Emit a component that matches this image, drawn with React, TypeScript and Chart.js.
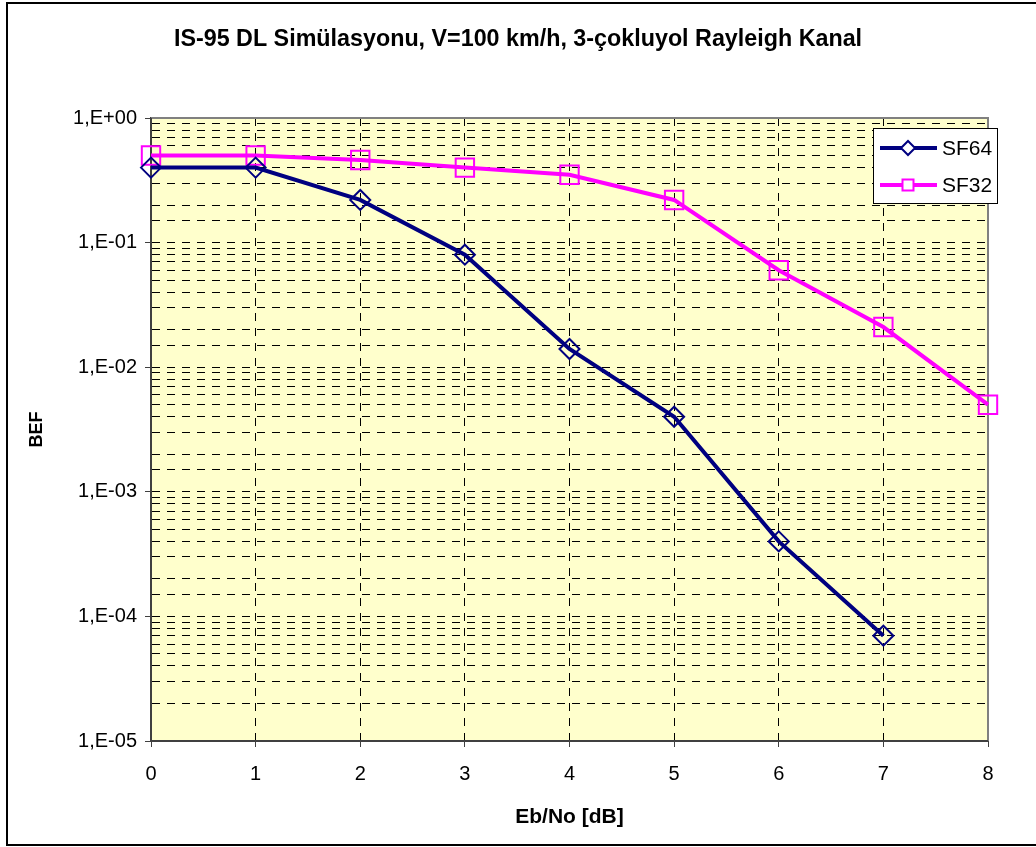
import { useEffect, useRef } from 'react';
import { Chart, registerables } from 'chart.js';

Chart.register(...registerables);

const ebNo = [0, 1, 2, 3, 4, 5, 6, 7, 8];
const sf64 = [0.4, 0.4, 0.22, 0.08, 0.014, 0.004, 0.0004, 0.00007];
const sf32 = [0.5, 0.5, 0.46, 0.4, 0.35, 0.22, 0.06, 0.021, 0.005];
const seriesNames = ['SF64', 'SF32'];
const seriesColors = ['#000080', '#FF00FF'];
const titleText = 'IS-95 DL Simülasyonu, V=100 km/h, 3-çokluyol Rayleigh Kanal';
const xTitle = 'Eb/No [dB]';
const yTitle = 'BEF';

const FONT = '"Liberation Sans", Arial, sans-serif';

function isDecade(v: number) {
  const l = Math.log10(v);
  return Math.abs(l - Math.round(l)) < 1e-9;
}
function fmtDecade(v: number) {
  const e = Math.round(Math.log10(v));
  const s = e < 0 ? '-' : '+';
  return `1,E${s}${String(Math.abs(e)).padStart(2, '0')}`;
}

const bgPlugin = {
  id: 'plotBg',
  beforeDraw(chart: any) {
    const { ctx, chartArea: a } = chart;
    ctx.save();
    ctx.fillStyle = '#fff';
    ctx.fillRect(0, 0, chart.width, chart.height);
    ctx.fillStyle = '#FFFFCC';
    ctx.fillRect(a.left, a.top, a.right - a.left, a.bottom - a.top);
    // title, centred on the whole chart
    ctx.fillStyle = '#000';
    ctx.font = `bold 23.3px ${FONT}`;
    ctx.textAlign = 'center';
    ctx.textBaseline = 'middle';
    ctx.fillText(titleText, chart.width / 2, 40);
    ctx.restore();
  },
  beforeDatasetsDraw(chart: any) {
    const { ctx, chartArea: a } = chart;
    ctx.save();
    ctx.strokeStyle = '#808080';
    ctx.lineWidth = 2;
    ctx.beginPath();
    ctx.moveTo(a.left, a.top);
    ctx.lineTo(a.right, a.top);
    ctx.lineTo(a.right, a.bottom);
    ctx.stroke();
    ctx.strokeStyle = '#404040';
    ctx.beginPath();
    ctx.moveTo(a.left, a.top);
    ctx.lineTo(a.left, a.bottom);
    ctx.lineTo(a.right, a.bottom);
    ctx.stroke();
    ctx.restore();
  },
  afterDraw(chart: any) {
    const { ctx } = chart;
    ctx.save();
    // outer border
    ctx.strokeStyle = '#000';
    ctx.lineWidth = 2;
    ctx.strokeRect(7, 3, chart.width + 10, 842);
    // legend
    const lx = 873, ly = 128, lw = 125, lh = 76;
    ctx.fillStyle = '#fff';
    ctx.fillRect(lx, ly, lw, lh);
    ctx.lineWidth = 1;
    ctx.strokeStyle = '#000';
    ctx.strokeRect(lx + 0.5, ly + 0.5, lw - 1, lh - 1);
    chart.data.datasets.forEach((ds: any, i: number) => {
      const y = ly + 20 + i * 37;
      ctx.strokeStyle = ds.borderColor;
      ctx.lineWidth = 4;
      ctx.beginPath();
      ctx.moveTo(lx + 7, y);
      ctx.lineTo(lx + 64, y);
      ctx.stroke();
      const cx = lx + 35;
      ctx.lineWidth = 2;
      ctx.fillStyle = '#fff';
      ctx.beginPath();
      if (ds.pointStyle === 'rectRot') {
        const r = 7;
        ctx.moveTo(cx - r, y);
        ctx.lineTo(cx, y - r);
        ctx.lineTo(cx + r, y);
        ctx.lineTo(cx, y + r);
        ctx.closePath();
      } else {
        const h = 5.5;
        ctx.rect(cx - h, y - h, 2 * h, 2 * h);
      }
      ctx.fill();
      ctx.stroke();
      ctx.fillStyle = '#000';
      ctx.font = `21px ${FONT}`;
      ctx.textBaseline = 'middle';
      ctx.textAlign = 'left';
      ctx.fillText(ds.label, lx + 69, y + 1);
    });
    ctx.restore();
  },
};

export default function App() {
  const ref = useRef<HTMLCanvasElement>(null);
  useEffect(() => {
    document.body.style.margin = '0';
    const canvas = ref.current!;
    const chart = new Chart(canvas, {
      type: 'line',
      data: {
        datasets: [
          {
            label: seriesNames[0],
            data: sf64.map((v, i) => ({ x: ebNo[i], y: v })),
            borderColor: seriesColors[0],
            backgroundColor: 'transparent',
            borderWidth: 4,
            pointStyle: 'rectRot',
            pointRadius: 10,
            pointBorderWidth: 2,
            pointBorderColor: seriesColors[0],
            pointBackgroundColor: 'transparent',
            tension: 0,
            clip: false,
          },
          {
            label: seriesNames[1],
            data: sf32.map((v, i) => ({ x: ebNo[i], y: v })),
            borderColor: seriesColors[1],
            backgroundColor: 'transparent',
            borderWidth: 4,
            pointStyle: 'rect',
            pointRadius: 13,
            pointBorderWidth: 2,
            pointBorderColor: seriesColors[1],
            pointBackgroundColor: 'transparent',
            tension: 0,
            clip: false,
          },
        ],
      },
      options: {
        animation: false,
        responsive: false,
        devicePixelRatio: 1,
        layout: { padding: { left: 0, right: 48, top: 118, bottom: 0 } },
        plugins: {
          legend: { display: false },
          tooltip: { enabled: false },
          title: { display: false },
        },
        scales: {
          x: {
            type: 'linear',
            min: 0,
            max: 8,
            afterFit: (s: any) => { s.height = 106; },
            ticks: { stepSize: 1, color: '#000', font: { family: FONT, size: 20 }, padding: 15 },
            grid: { color: '#000', lineWidth: 1, tickLength: 6, tickColor: '#404040', drawOnChartArea: true },
            border: { dash: [8, 7], color: '#404040', width: 2 },
            title: {
              display: true,
              text: xTitle,
              color: '#000',
              font: { family: FONT, size: 21, weight: 'bold' },
              padding: { top: 0, bottom: 17 },
            },
          },
          y: {
            type: 'logarithmic',
            min: 1e-5,
            max: 1,
            afterFit: (s: any) => { s.width = 151; },
            ticks: {
              autoSkip: false,
              color: '#000',
              font: { family: FONT, size: 20 },
              padding: 8,
              callback: (v: any) => (isDecade(Number(v)) ? fmtDecade(Number(v)) : ''),
            },
            grid: {
              color: '#000',
              lineWidth: 1,
              tickLength: 6,
              tickColor: (c: any) => (c.tick && isDecade(c.tick.value) ? '#404040' : 'rgba(0,0,0,0)'),
            },
            border: { dash: [8, 7], color: '#404040', width: 2 },
            title: {
              display: true,
              text: yTitle,
              color: '#000',
              font: { family: FONT, size: 18, weight: 'bold' },
              padding: { top: 26, bottom: 0 },
            },
          },
        },
      },
      plugins: [bgPlugin],
    } as any);
    return () => chart.destroy();
  }, []);
  return <canvas ref={ref} width={1036} height={847} style={{ display: 'block', width: 1036, height: 847 }} />;
}
